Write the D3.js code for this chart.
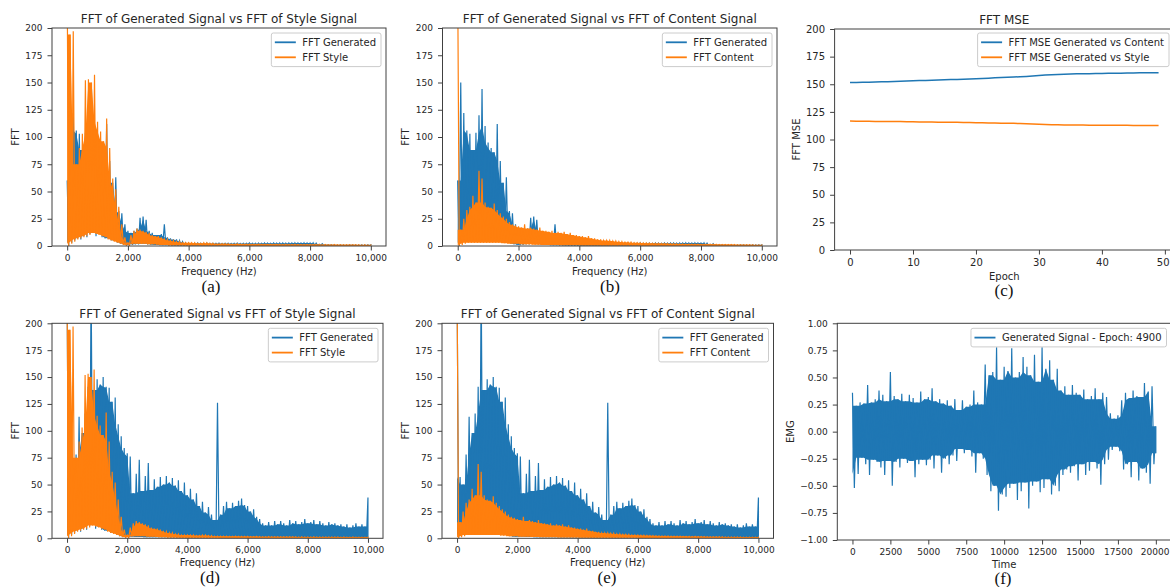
<!DOCTYPE html>
<html>
<head>
<meta charset="utf-8">
<script src="https://cdn.jsdelivr.net/npm/d3@7"></script>
<style>
  html, body { margin: 0; padding: 0; background: #fff; }
  svg { display: block; font-family: "DejaVu Sans", sans-serif; }
</style>
</head>
<body>
<svg id="fig" width="1170" height="587"></svg>
<script>
// ---------- data ----------
// Spectra: local maximum / minimum of |FFT| in 100 Hz bins, 0 .. 10,000 Hz
const freqHz = d3.range(0, 10001, 100);

const styleHigh = [240,194,197,75,90,103,152,153,150,157,
  114,105,96,117,90,62,52,36,20,8,
  3,10,14,16,15,14,13,12,10,9,
  9,8,7,6,5,5,4,4,3,3,
  3,3,3,2.5,2.5,3,3,2.5,2.5,2,
  2,2,2,2,1.8,1.8,2,1.8,1.8,1.7,
  1.7,1.6,1.6,1.7,1.6,1.5,1.5,1.6,1.5,1.5,
  1.5,1.4,1.5,1.4,1.4,1.5,1.4,1.3,1.4,1.3,
  1.3,1.3,1.4,1.3,1.2,1.3,1.2,1.2,1.3,1.2,
  1.2,1.1,1.2,1.1,1.1,1.2,1.1,1.0,1.1,1.0,
  1.0];
const styleLow = [0,2,4,6,7,8,9,10,12,11,
  10,9,8,6,5,4,3,2,1,0.5,
  0.3,1.5,2,2,2,2,1.5,1.5,1.5,1.2,
  1,1,1,0.8,0.8,0.8,0.6,0.6,0.5,0.5,
  0.4,0.4,0.4,0.4,0.4,0.4,0.4,0.4,0.4,0.4,
  0.3,0.3,0.3,0.3,0.3,0.3,0.3,0.3,0.3,0.3,
  0.3,0.3,0.3,0.3,0.3,0.3,0.3,0.3,0.3,0.3,
  0.3,0.3,0.3,0.3,0.3,0.3,0.3,0.3,0.3,0.3,
  0.3,0.3,0.3,0.3,0.3,0.3,0.3,0.3,0.3,0.3,
  0.3,0.3,0.3,0.3,0.3,0.3,0.3,0.3,0.3,0.3,
  0.3];

const genEarlyHigh = [60,150,122,106,103,88,104,120,144,110,
  95,90,86,112,78,58,63,32,30,20,
  14,12,14,16,26,27,24,14,12,10,
  10,11,20,8,7,6,6,5,4,3,
  2.5,2.2,2.5,2.8,2.4,2.2,2.6,2.3,2.5,2.4,
  2.6,2.3,2.5,2.4,2.2,2.5,2.6,2.3,2.4,2.5,
  2.7,2.5,2.4,2.6,2.5,2.8,2.6,2.5,2.7,2.6,
  2.8,2.7,2.6,2.8,2.7,2.9,2.7,2.8,2.9,2.7,
  2.8,2.9,2.6,1.5,2.0,1.2,1.2,1.1,1.2,1.0,
  1.1,1.0,1.0,1.1,0.9,1.0,1.0,0.9,1.0,0.9,
  0.9];
const genEarlyLow = [0,3,5,7,6,9,8,11,13,9,
  11,8,7,7,5,5,3,2,1.5,1,
  0.8,1,1.5,1.5,2,2,1.5,1.2,1,1,
  0.8,0.8,0.7,0.6,0.5,0.5,0.5,0.4,0.4,0.4,
  0.3,0.3,0.3,0.3,0.3,0.3,0.3,0.3,0.3,0.3,
  0.3,0.3,0.3,0.3,0.3,0.3,0.3,0.3,0.3,0.3,
  0.3,0.3,0.3,0.3,0.3,0.3,0.3,0.3,0.3,0.3,
  0.3,0.3,0.3,0.3,0.3,0.3,0.3,0.3,0.3,0.3,
  0.3,0.3,0.3,0.3,0.3,0.3,0.3,0.3,0.3,0.3,
  0.3,0.3,0.3,0.3,0.3,0.3,0.3,0.3,0.3,0.3,
  0.3];

const contentHigh = [240,15,25,33,36,46,40,69,62,40,
  36,35,39,33,30,27,25,22,20,19,
  18,17,20,16,17,16,15,17,14,14,
  13,14,12,13,12,13,11,12,10,10,
  9,9,8,9,7,7,6,6,5,5,
  5,4.5,4.5,4,4,3.5,3.5,3.5,3,3,
  3,2.8,2.8,2.6,2.5,2.5,2.4,2.3,2.2,2.2,
  2.1,2,2,1.9,1.9,1.8,1.8,1.8,1.7,1.7,
  1.6,1.6,1.6,1.5,1.5,1.5,1.4,1.4,1.4,1.3,
  1.3,1.3,1.2,1.2,1.2,1.1,1.1,1.1,1.0,1.0,
  1.0];
const contentLow = [0,1,2,3,3,3,3,3,3,3,
  3,3,3,3,2.5,2.5,2,2,2,2,
  1.5,1.5,1.5,1.5,1.2,1.2,1.2,1,1,1,
  1,1,1,0.8,0.8,0.8,0.8,0.7,0.7,0.7,
  0.5,0.5,0.5,0.5,0.5,0.5,0.5,0.5,0.5,0.5,
  0.4,0.4,0.4,0.4,0.4,0.4,0.4,0.4,0.4,0.4,
  0.3,0.3,0.3,0.3,0.3,0.3,0.3,0.3,0.3,0.3,
  0.3,0.3,0.3,0.3,0.3,0.3,0.3,0.3,0.3,0.3,
  0.3,0.3,0.3,0.3,0.3,0.3,0.3,0.3,0.3,0.3,
  0.3,0.3,0.3,0.3,0.3,0.3,0.3,0.3,0.3,0.3,
  0.3];

const genLateHigh = [240,57,50,78,113,98,116,141,240,138,
  148,143,150,141,140,127,131,106,95,84,
  79,76,42,60,73,44,58,70,45,55,
  48,57,50,58,52,56,49,54,44,52,
  40,46,36,42,30,34,24,29,22,17,
  126,22,30,34,28,33,30,35,37,31,
  30,25,27,20,18,14,12,15,12,16,
  13,16,14,12,17,14,16,13,15,18,
  14,15,17,13,16,14,12,15,13,14,
  12,13,11,13,10,12,14,11,13,11,
  38];
const genLateLow = [0,3,5,7,6,9,8,11,13,9,
  11,8,7,7,5,5,3,2,1.5,1.5,
  1.5,1.5,1.2,1.2,1.2,1,1,1,1,1,
  1,1,1,1,1,1,1,1,1,1,
  1,1,1,1,1,1,1,1,1,1,
  1,1,1,1,1,1,1,1,1,1,
  0.5,0.5,0.5,0.5,0.5,0.5,0.5,0.5,0.5,0.5,
  0.5,0.5,0.5,0.5,0.5,0.5,0.5,0.5,0.5,0.5,
  0.5,0.5,0.5,0.5,0.5,0.5,0.5,0.5,0.5,0.5,
  0.5,0.5,0.5,0.5,0.5,0.5,0.5,0.5,0.5,0.5,
  0.5];

// FFT MSE per epoch
const epochs = d3.range(0, 50);
const mseContent = [151.5,151.6,151.8,151.9,152.0,152.2,152.3,152.5,152.7,152.9,
  153.1,153.3,153.5,153.6,153.8,154.0,154.2,154.4,154.6,154.8,
  155.0,155.2,155.5,155.8,156.1,156.3,156.5,156.8,157.1,157.5,
  157.9,158.3,158.6,158.9,159.1,159.3,159.4,159.5,159.6,159.7,
  159.8,159.9,160.0,160.0,160.1,160.2,160.3,160.3,160.4,160.5];
const mseStyle = [116.7,116.6,116.6,116.5,116.4,116.4,116.3,116.2,116.2,116.1,
  116.0,115.9,115.9,115.8,115.7,115.7,115.6,115.5,115.4,115.3,
  115.2,115.1,115.0,114.9,114.8,114.7,114.6,114.4,114.2,114.0,
  113.8,113.6,113.4,113.3,113.2,113.2,113.1,113.1,113.0,113.0,
  113.0,112.9,112.9,112.8,112.8,112.7,112.7,112.7,112.6,112.6];

// Generated EMG, epoch 4900: local max / min in 250-sample windows
const sampleIdx = d3.range(0, 20001, 250);
const emgUpper = [0.36,0.24,0.27,0.26,0.43,0.27,0.30,0.38,0.34,0.28,
  0.55,0.33,0.30,0.35,0.28,0.34,0.31,0.27,0.37,0.30,
  0.32,0.40,0.28,0.30,0.26,0.29,0.24,0.30,0.20,0.29,
  0.23,0.25,0.38,0.27,0.25,0.62,0.52,0.55,0.78,0.48,
  0.60,0.56,0.77,0.50,0.55,0.69,0.60,0.52,0.71,0.46,
  0.78,0.58,0.66,0.48,0.58,0.38,0.42,0.34,0.43,0.36,
  0.34,0.39,0.30,0.33,0.40,0.30,0.36,0.32,0.17,0.12,
  0.15,0.29,0.36,0.31,0.38,0.33,0.32,0.45,0.37,0.42,
  0.05];
const emgLower = [-0.52,-0.39,-0.24,-0.30,-0.40,-0.26,-0.28,-0.33,-0.40,-0.27,
  -0.50,-0.28,-0.33,-0.25,-0.29,-0.27,-0.42,-0.30,-0.26,-0.31,
  -0.26,-0.34,-0.22,-0.38,-0.25,-0.30,-0.22,-0.27,-0.16,-0.20,
  -0.17,-0.23,-0.38,-0.20,-0.25,-0.40,-0.55,-0.50,-0.73,-0.58,
  -0.60,-0.52,-0.48,-0.63,-0.55,-0.47,-0.71,-0.50,-0.46,-0.56,
  -0.52,-0.44,-0.58,-0.50,-0.55,-0.40,-0.35,-0.38,-0.32,-0.45,
  -0.30,-0.40,-0.36,-0.28,-0.34,-0.49,-0.30,-0.26,-0.17,-0.14,
  -0.18,-0.35,-0.30,-0.42,-0.28,-0.45,-0.34,-0.38,-0.48,-0.30,
  -0.20];

const fftTicksY = [0, 25, 50, 75, 100, 125, 150, 175, 200];
const fftTicksX = [0, 2000, 4000, 6000, 8000, 10000];
const mseTicksX = [0, 10, 20, 30, 40, 50];
const emgTicksX = [0, 2500, 5000, 7500, 10000, 12500, 15000, 17500, 20000];
const emgTicksY = [-1, -0.75, -0.5, -0.25, 0, 0.25, 0.5, 0.75, 1];

// ---------- drawing ----------
const BLUE = '#1f77b4', ORANGE = '#ff7f0e', INK = '#262626', SPINE = '#404040';
const W = 1170;
const svg = d3.select('#fig');
let clipCount = 0;

function panel(o) {
  const g = svg.append('g');
  const x = d3.scaleLinear().domain(o.xDomain).range([o.L, o.R]);
  const y = d3.scaleLinear().domain(o.yDomain).range([o.B, o.T]);
  const id = 'clip' + (++clipCount);
  svg.append('clipPath').attr('id', id).append('rect')
    .attr('x', o.L).attr('y', o.T).attr('width', o.R - o.L).attr('height', o.B - o.T);
  const plot = g.append('g').attr('clip-path', `url(#${id})`);

  const ax = g.append('g').attr('transform', `translate(0,${o.B})`)
    .call(d3.axisBottom(x).tickValues(o.xTicks).tickFormat(o.xFmt).tickSize(4.5).tickPadding(4));
  const ay = g.append('g').attr('transform', `translate(${o.L},0)`)
    .call(d3.axisLeft(y).tickValues(o.yTicks).tickFormat(o.yFmt).tickSize(4.5).tickPadding(5));
  [ax, ay].forEach(a => {
    a.attr('font-family', null).attr('font-size', null);
    a.select('.domain').remove();
    a.selectAll('line').attr('stroke', SPINE).attr('stroke-width', 1);
    a.selectAll('text').attr('fill', INK).style('font-size', o.tickFs + 'px');
  });
  // keep the last tick label inside the page when the axis runs past the right edge
  ax.selectAll('.tick').each(function() {
    const tr = d3.select(this).attr('transform');
    const tx = +tr.match(/translate\(([-\d.]+)/)[1];
    const t = d3.select(this).select('text');
    const half = t.node().getComputedTextLength() / 2;
    if (tx + half > W - 0.5) t.attr('text-anchor', 'end').attr('x', W - 0.5 - tx);
  });

  if (o.title) {
    g.append('text').attr('x', (o.L + o.R) / 2).attr('y', o.T - 5)
      .attr('text-anchor', 'middle').attr('fill', INK).style('font-size', '12px').text(o.title);
  }
  g.append('text').attr('x', (o.L + o.R) / 2).attr('y', o.B + o.xLabelDy)
    .attr('text-anchor', 'middle').attr('fill', INK).style('font-size', '10px').text(o.xLabel);
  g.append('text')
    .attr('transform', `translate(${o.yLabelX},${(o.T + o.B) / 2}) rotate(-90)`)
    .attr('text-anchor', 'middle').attr('dy', '0.35em').attr('fill', INK)
    .style('font-size', '10px').text(o.yLabel);
  svg.append('text').attr('x', o.tagX).attr('y', o.tagY).attr('text-anchor', 'middle')
    .attr('fill', '#111').style('font-family', '"Liberation Serif", serif').style('font-size', '17px')
    .text(o.tag);

  return {
    g, plot, x, y,
    frame() {
      g.append('rect').attr('x', o.L).attr('y', o.T).attr('width', o.R - o.L).attr('height', o.B - o.T)
        .attr('fill', 'none').attr('stroke', SPINE).attr('stroke-width', 1);
    }
  };
}

// Dense band: solid body between the inner envelopes plus a zig-zag trace for the spikes
function band(p, xs, high, low, halfStep, color) {
  const n = high.length;
  const nb = i => [Math.max(0, i - 1), i, Math.min(n - 1, i + 1)];
  const body = high.map((h, i) => d3.min(nb(i), j => high[j]));
  const floor = low.map((l, i) => d3.max(nb(i), j => low[j]));
  const area = d3.area().x((d, i) => p.x(xs[i]))
    .y0((d, i) => p.y(Math.min(floor[i], body[i]))).y1((d, i) => p.y(body[i]));
  p.plot.append('path').attr('d', area(high)).attr('fill', color);
  const pts = [];
  high.forEach((h, i) => {
    pts.push([xs[i], h]);
    pts.push([i === n - 1 ? xs[i] : xs[i] + halfStep, low[i]]);
  });
  p.plot.append('path')
    .attr('d', d3.line().x(d => p.x(d[0])).y(d => p.y(d[1]))(pts))
    .attr('fill', 'none').attr('stroke', color).attr('stroke-width', 1.2).attr('stroke-linejoin', 'miter');
}

function legend(p, items, right, top) {
  const lg = p.g.append('g');
  const box = lg.append('rect');
  let maxW = 0;
  items.forEach((it, i) => {
    const cy = top + 9.3 + 15 * i;
    const t = lg.append('text').attr('y', cy).attr('dy', '0.35em').attr('fill', INK)
      .style('font-size', '10px').text(it.label);
    maxW = Math.max(maxW, t.node().getComputedTextLength());
    it.node = t; it.cy = cy;
  });
  const w = maxW + 36, left = right - w;
  box.attr('x', left).attr('y', top).attr('width', w).attr('height', 3.6 + 15 * items.length)
    .attr('rx', 2).attr('fill', '#fff').attr('fill-opacity', 0.8).attr('stroke', '#cccccc').attr('stroke-width', 1);
  items.forEach(it => {
    lg.append('line').attr('x1', left + 3.5).attr('x2', left + 24.5).attr('y1', it.cy).attr('y2', it.cy)
      .attr('stroke', it.color).attr('stroke-width', 1.8);
    it.node.attr('x', left + 31);
  });
}

const fmtComma = d3.format(',');
const fmtInt = d3.format('d');
const fmtEmg = d => d3.format('.2f')(d).replace('-', '\u2212');

function fftPanel(o, genHigh, genLow, refHigh, refLow, refName) {
  const p = panel(Object.assign({
    xDomain: [-500, 10500], yDomain: [0, 200], xTicks: fftTicksX, yTicks: fftTicksY,
    xFmt: fmtComma, yFmt: fmtInt, tickFs: 9, xLabel: 'Frequency (Hz)', yLabel: 'FFT'
  }, o));
  band(p, freqHz, genHigh, genLow, 50, BLUE);
  band(p, freqHz, refHigh, refLow, 50, ORANGE);
  p.frame();
  legend(p, [{ label: 'FFT Generated', color: BLUE }, { label: 'FFT ' + refName, color: ORANGE }], o.R - 5, o.T + 5);
}

// (a) early epoch vs style
fftPanel({ L: 52, R: 386, T: 28, B: 246, xLabelDy: 29, yLabelX: 15,
  title: 'FFT of Generated Signal vs FFT of Style Signal', tag: '(a)', tagX: 211, tagY: 292 },
  genEarlyHigh, genEarlyLow, styleHigh, styleLow, 'Style');
// (b) early epoch vs content
fftPanel({ L: 442.5, R: 777, T: 28, B: 246, xLabelDy: 29, yLabelX: 405,
  title: 'FFT of Generated Signal vs FFT of Content Signal', tag: '(b)', tagX: 610, tagY: 292 },
  genEarlyHigh, genEarlyLow, contentHigh, contentLow, 'Content');
// (d) late epoch vs style
fftPanel({ L: 52, R: 383, T: 323.3, B: 538.3, xLabelDy: 27.5, yLabelX: 15,
  title: 'FFT of Generated Signal vs FFT of Style Signal', tag: '(d)', tagX: 210, tagY: 583 },
  genLateHigh, genLateLow, styleHigh, styleLow, 'Style');
// (e) late epoch vs content
fftPanel({ L: 442, R: 773.5, T: 323.3, B: 538.3, xLabelDy: 27.5, yLabelX: 405,
  title: 'FFT of Generated Signal vs FFT of Content Signal', tag: '(e)', tagX: 607, tagY: 583 },
  genLateHigh, genLateLow, contentHigh, contentLow, 'Content');

// (c) FFT MSE over epochs
{
  const o = { L: 834.6, R: 1174, T: 29, B: 250 };
  const p = panel(Object.assign({
    xDomain: [-2.45, 51.45], yDomain: [0, 200], xTicks: mseTicksX, yTicks: fftTicksY,
    xFmt: fmtInt, yFmt: fmtInt, tickFs: 10, xLabel: 'Epoch', yLabel: 'FFT MSE', xLabelDy: 29.5,
    yLabelX: 796.7, title: 'FFT MSE', tag: '(c)', tagX: 1004, tagY: 296
  }, o));
  const line = vals => d3.line().x((d, i) => p.x(epochs[i])).y(d => p.y(d))(vals);
  p.plot.append('path').attr('d', line(mseContent)).attr('fill', 'none').attr('stroke', BLUE).attr('stroke-width', 1.5);
  p.plot.append('path').attr('d', line(mseStyle)).attr('fill', 'none').attr('stroke', ORANGE).attr('stroke-width', 1.5);
  p.frame();
  legend(p, [{ label: 'FFT MSE Generated vs Content', color: BLUE },
             { label: 'FFT MSE Generated vs Style', color: ORANGE }], 1169, o.T + 4);
}

// (f) generated EMG signal: body spans the inner envelopes (closest to zero)
{
  const o = { L: 837.3, R: 1171, T: 323.3, B: 540 };
  const p = panel(Object.assign({
    xDomain: [-1000, 21000], yDomain: [-1, 1], xTicks: emgTicksX, yTicks: emgTicksY,
    xFmt: fmtInt, yFmt: fmtEmg, tickFs: 9, xLabel: 'Time', yLabel: 'EMG', xLabelDy: 28,
    yLabelX: 790, title: null, tag: '(f)', tagX: 1003, tagY: 583.5
  }, o));
  band(p, sampleIdx, emgUpper, emgLower, 125, BLUE);
  p.frame();
  legend(p, [{ label: 'Generated Signal - Epoch: 4900', color: BLUE }], 1166.5, o.T + 5);
}
</script>
</body>
</html>
